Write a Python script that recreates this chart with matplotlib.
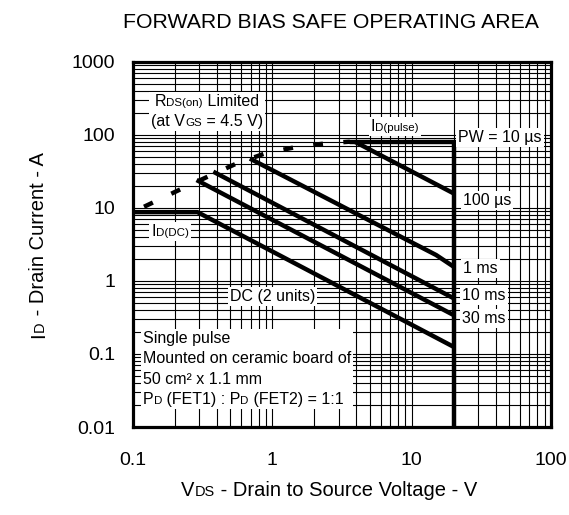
import numpy as np
import matplotlib
matplotlib.use('Agg')
import matplotlib.pyplot as plt
from matplotlib.offsetbox import TextArea, HPacker, VPacker, AnnotationBbox
from matplotlib.ticker import FixedLocator, FixedFormatter, LogLocator, NullFormatter
from matplotlib.transforms import IdentityTransform

plt.rcParams['font.family'] = ['Liberation Sans', 'DejaVu Sans']

# ---------------- data ----------------
xtick_values = [0.1, 1, 10, 100]
xtick_labels = ['0.1', '1', '10', '100']
ytick_values = [0.01, 0.1, 1, 10, 100, 1000]
ytick_labels = ['0.01', '0.1', '1', '10', '100', '1000']

# R_DS(on) limit (dashed)
rds_v = [0.12, 0.22, 0.35, 0.55, 0.88, 1.5, 2.45, 3.6]
rds_i = [10.3, 17.9, 27.0, 40.0, 55.0, 68.0, 76.0, 80.0]

# I_D(pulse) limit and V_DSS limit
pulse_v = [3.6, 20.0, 20.0]
pulse_i = [80.0, 80.0, 0.01]

# pulse-width curves
pw100us_v = [3.9, 20.0]
pw100us_i = [80.0, 15.7]
pw1ms_v = [0.69, 15.0, 20.0]
pw1ms_i = [47.0, 2.25, 1.56]
pw10ms_v = [0.377, 20.0]
pw10ms_i = [31.1, 0.577]
pw30ms_v = [0.286, 20.0]
pw30ms_i = [23.9, 0.34]
dc_v = [0.1, 0.29, 20.0]
dc_i = [8.7, 8.7, 0.125]

W, H = 569, 515
fig = plt.figure(figsize=(W / 100, H / 100), dpi=100)
L, R, T, B = 133, 551, 61.5, 427
ax = fig.add_axes([L / W, 1 - B / H, (R - L) / W, (B - T) / H])
ax.set_xscale('log')
ax.set_yscale('log')
ax.set_xlim(0.1, 100)
ax.set_ylim(0.01, 1000)

ax.xaxis.set_major_locator(FixedLocator(xtick_values))
ax.xaxis.set_major_formatter(FixedFormatter(xtick_labels))
ax.yaxis.set_major_locator(FixedLocator(ytick_values))
ax.yaxis.set_major_formatter(FixedFormatter(ytick_labels))
ax.xaxis.set_minor_locator(LogLocator(base=10, subs=np.arange(2, 10), numticks=100))
ax.yaxis.set_minor_locator(LogLocator(base=10, subs=np.arange(2, 10), numticks=100))
ax.xaxis.set_minor_formatter(NullFormatter())
ax.yaxis.set_minor_formatter(NullFormatter())
ax.tick_params(which='both', length=0)
ax.tick_params(axis='x', labelsize=14, pad=18)
ax.tick_params(axis='y', labelsize=14, pad=13)
ax.grid(True, which='both', color='black', lw=0.8)
ax.set_axisbelow(True)
for sp in ax.spines.values():
    sp.set_linewidth(2.3)
    sp.set_zorder(6)

lw = 3.2
ax.plot(rds_v, rds_i, color='black', lw=lw, linestyle=(0, (2.2, 4.6)), dash_capstyle='butt', zorder=3)
ax.plot(pulse_v, pulse_i, color='black', lw=lw, solid_capstyle='round', solid_joinstyle='miter', zorder=3)
for vv, ii in [(pw100us_v, pw100us_i), (pw1ms_v, pw1ms_i), (pw10ms_v, pw10ms_i),
               (pw30ms_v, pw30ms_i), (dc_v, dc_i)]:
    ax.plot(vv, ii, color='black', lw=lw, solid_capstyle='butt', zorder=3)

BASE = 11.5
SMALL = 0.72


def rich(pieces, size=BASE):
    boxes = []
    for s, sm in pieces:
        boxes.append(TextArea(s, textprops=dict(fontsize=size * SMALL if sm else size, color='black')))
    return HPacker(children=boxes, align='baseline', pad=0, sep=0)


def place(box, px, py, align=(0, 0.5), frame=True, pad=0.15):
    ab = AnnotationBbox(box, (px, H - py), xycoords='figure pixels', box_alignment=align,
                        frameon=frame, pad=pad,
                        bboxprops=dict(facecolor='white', edgecolor='none'), zorder=5)
    ax.add_artist(ab)
    return ab


# R_DS(on) label
rds_box = VPacker(children=[rich([('R', False), ('DS(on)', True), (' Limited', False)]),
                            rich([('(at V', False), ('GS', True), (' = 4.5 V)', False)])],
                  align='center', pad=0, sep=3)
place(rds_box, 207, 111.5, align=(0.5, 0.5))

place(rich([('I', False), ('D(pulse)', True)]), 371, 126.7)
place(rich([('PW = 10 µs', False)]), 458, 137.3)
place(rich([('100 µs', False)]), 463, 200.7)
place(rich([('1 ms', False)]), 463, 268.3)
place(rich([('10 ms', False)]), 462, 295)
place(rich([('30 ms', False)]), 462, 318.3)
place(rich([('I', False), ('D(DC)', True)]), 151.5, 231.7)
place(rich([('DC (2 units)', False)]), 230, 296.7)

note_box = VPacker(children=[rich([('Single pulse', False)]),
                             rich([('Mounted on ceramic board of', False)]),
                             rich([('50 cm² x 1.1 mm', False)]),
                             rich([('P', False), ('D', True), (' (FET1) : P', False), ('D', True),
                                   (' (FET2) = 1:1', False)])],
                   align='left', pad=0, sep=4)
place(note_box, 143, 369, align=(0, 0.5))

# title
fig.text(331 / W, 1 - 22 / H, 'FORWARD BIAS SAFE OPERATING AREA', ha='center', va='center', fontsize=15.3)

# x label
xl = rich([('V', False), ('DS', True), (' - Drain to Source Voltage - V', False)], size=14.5)
place(xl, 329, 490, align=(0.5, 0.5), frame=False)

# y label (rotated, built from pieces)
renderer = fig.canvas.get_renderer()
ypieces = [('I', 14.5), ('D', 14.5 * SMALL), (' - Drain Current - A', 14.5)]
widths = []
for s, fs in ypieces:
    t = fig.text(0, 0, s, fontsize=fs, transform=IdentityTransform())
    widths.append(t.get_window_extent(renderer).width)
    t.remove()
total = sum(widths)
y0 = (H - 245) - total / 2
xb = 44
for (s, fs), w in zip(ypieces, widths):
    fig.text(xb, y0, s, fontsize=fs, rotation=90, rotation_mode='anchor', ha='left', va='baseline',
             transform=IdentityTransform())
    y0 += w

fig.savefig('out.png', dpi=100)
